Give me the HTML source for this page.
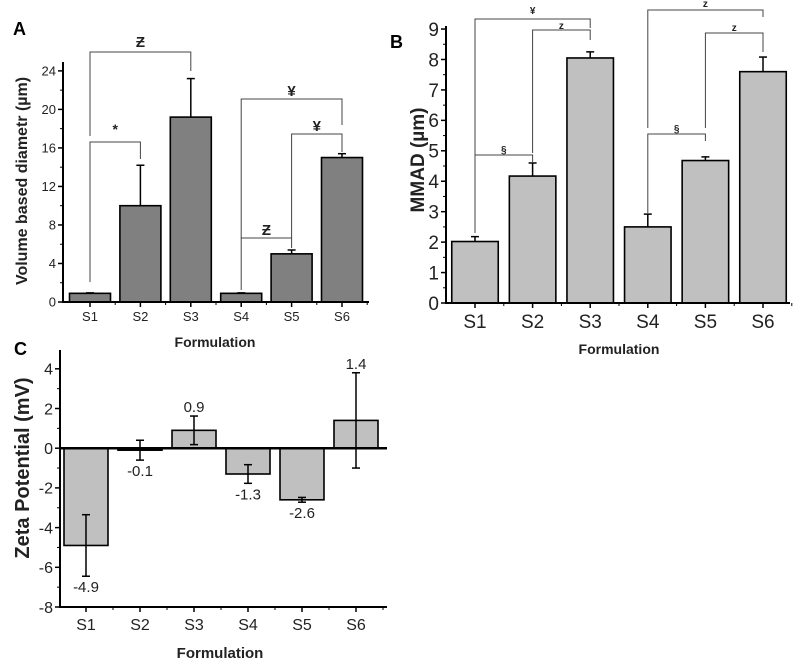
<!DOCTYPE html>
<html><head><meta charset="utf-8"><style>
body{margin:0;background:#fff}
svg{display:block;font-family:"Liberation Sans",Arial,sans-serif}
</style></head><body>
<svg id="fig" width="795" height="663" viewBox="0 0 795 663" xmlns="http://www.w3.org/2000/svg">
<g id="pa"></g>
<g id="pb"></g>
<g id="pc"></g>
</svg>
<script>
const categories=["S1","S2","S3","S4","S5","S6"];
const volDiam=[0.9,10,19.2,0.9,5,15];
const volDiamErr=[0.05,4.2,4.0,0.05,0.4,0.4];
const volTicks=[0,4,8,12,16,20,24];
const mmad=[2.02,4.17,8.05,2.5,4.68,7.6];
const mmadErr=[0.16,0.43,0.2,0.42,0.12,0.48];
const mmadTicks=[0,1,2,3,4,5,6,7,8,9];
const zeta=[-4.9,-0.1,0.9,-1.3,-2.6,1.4];
const zetaErr=[1.55,0.5,0.72,0.47,0.12,2.4];
const zetaLabels=["-4.9","-0.1","0.9","-1.3","-2.6","1.4"];
const zetaTicks=[-8,-6,-4,-2,0,2,4];
const NS="http://www.w3.org/2000/svg";
function mk(p,tag,a,name,txt){const e=document.createElementNS(NS,tag);for(const k in a)e.setAttribute(k,a[k]);


if(txt!==undefined)e.textContent=txt;p.appendChild(e);return e;}
function panel(g,o){
 const y=v=>o.y0-(v-o.vmin)*o.ppu;
 const x=i=>o.x0c+i*o.dx;
 o.vals.forEach((v,i)=>{
  const base=o.base!==undefined?o.base:o.vmin;
  const t=Math.min(y(v),y(base)),h=Math.abs(y(v)-y(base));
  mk(g,'rect',{x:x(i)-o.bw/2,y:t,width:o.bw,height:Math.max(h,0.5),fill:o.fill,stroke:'#000','stroke-width':1.6},'bar-'+categories[i].toLowerCase());
  const e=o.errs[i];
  const top=y(v+e), bot=o.sym?y(v-e):y(v);
  mk(g,'line',{x1:x(i),x2:x(i),y1:top,y2:bot,stroke:'#000','stroke-width':1.5},'error-bar-'+categories[i].toLowerCase());
  mk(g,'line',{x1:x(i)-4,x2:x(i)+4,y1:top,y2:top,stroke:'#000','stroke-width':1.5},'error-cap');
  if(o.sym) mk(g,'line',{x1:x(i)-4,x2:x(i)+4,y1:bot,y2:bot,stroke:'#000','stroke-width':1.5},'error-cap');
 });
 mk(g,'line',{x1:o.ax,x2:o.ax,y1:o.ytop,y2:y(o.vmin)+1,stroke:'#000','stroke-width':2},'y-axis');
 mk(g,'line',{x1:o.ax,x2:o.axEnd,y1:y(o.xAt),y2:y(o.xAt),stroke:'#000','stroke-width':o.zeroW||2},'x-axis');
 if(o.vmin<0) mk(g,'line',{x1:o.ax,x2:o.axEnd,y1:y(o.vmin),y2:y(o.vmin),stroke:'#000','stroke-width':2},'x-axis-bottom');
 o.ticks.forEach((t,k)=>{
  mk(g,'line',{x1:o.ax-5,x2:o.ax,y1:y(t),y2:y(t),stroke:'#000','stroke-width':1.5},'y-tick');
  if(k<o.ticks.length-1){const m=(t+o.ticks[k+1])/2;mk(g,'line',{x1:o.ax-3,x2:o.ax,y1:y(m),y2:y(m),stroke:'#000','stroke-width':1},'y-minor-tick');}
  mk(g,'text',{x:o.ax-7,y:y(t)+o.fs*0.36,'text-anchor':'end','font-size':o.fs,fill:'#222'},'y-tick-label',String(t));
 });
 categories.forEach((c,i)=>{
  mk(g,'line',{x1:x(i),x2:x(i),y1:y(o.vmin),y2:y(o.vmin)+5,stroke:'#000','stroke-width':1.5},'x-tick');
  mk(g,'line',{x1:x(i)+o.dx/2,x2:x(i)+o.dx/2,y1:y(o.vmin),y2:y(o.vmin)+3,stroke:'#000','stroke-width':1},'x-minor-tick');
  mk(g,'text',{x:x(i),y:y(o.vmin)+o.xlOff,'text-anchor':'middle','font-size':o.fs,fill:'#222'},'x-tick-label',c);
 });
 return {x,y};
}
function bracket(g,x1,x2,yb,y1e,y2e,lab,fs,ly){
 mk(g,'path',{d:`M${x1},${y1e}V${yb}H${x2}V${y2e}`,fill:'none',stroke:'#444','stroke-width':1},'significance-bracket');
 mk(g,'text',{x:(x1+x2)/2,y:ly,'text-anchor':'middle','font-size':fs,'font-weight':'bold',fill:'#222'},'significance-label',lab);
}
const ga=document.getElementById('pa');
const A=panel(ga,{vals:volDiam,errs:volDiamErr,ticks:volTicks,vmin:0,y0:302,ppu:9.63,x0c:90,dx:50.4,bw:41,fill:'#808080',ax:63,axEnd:369,ytop:62,xAt:0,fs:13,xlOff:19});
bracket(ga,A.x(0),A.x(2),52,136,71,'Ƶ',15,47);
bracket(ga,A.x(0),A.x(1),142,282,159,'*',14,134);
bracket(ga,A.x(3),A.x(5),99,238,125,'¥',15,96);
bracket(ga,A.x(4),A.x(5),134,238,152,'¥',15,131);
bracket(ga,A.x(3),A.x(4),238,290,248,'Ƶ',15,235);
mk(ga,'text',{x:13,y:35,'font-size':18,'font-weight':'bold'},'panel-label-a','A');
mk(ga,'text',{x:0,y:0,transform:'translate(27,181) rotate(-90)','text-anchor':'middle','font-size':16,'font-weight':'bold',fill:'#222'},'y-axis-title','Volume based diametr (µm)');
mk(ga,'text',{x:215,y:347,'text-anchor':'middle','font-size':14,'font-weight':'bold',fill:'#222'},'x-axis-title','Formulation');
const gb=document.getElementById('pb');
const B=panel(gb,{vals:mmad,errs:mmadErr,ticks:mmadTicks,vmin:0,y0:303,ppu:30.44,x0c:475,dx:57.6,bw:46.5,fill:'#c0c0c0',ax:446,axEnd:790,ytop:26,xAt:0,fs:19,xlOff:25});
bracket(gb,B.x(0),B.x(2),19,233,28,'¥',10,14);
bracket(gb,B.x(1),B.x(2),30,153,40,'z',10,29);
bracket(gb,B.x(0),B.x(1),155,233,163,'§',10,153);
bracket(gb,B.x(3),B.x(5),10,128,17,'z',10,7);
bracket(gb,B.x(4),B.x(5),33,128,52,'z',10,31);
bracket(gb,B.x(3),B.x(4),134,213,141,'§',10,132);
mk(gb,'text',{x:390,y:48,'font-size':18,'font-weight':'bold'},'panel-label-b','B');
mk(gb,'text',{x:0,y:0,transform:'translate(424,160) rotate(-90)','text-anchor':'middle','font-size':19,'font-weight':'bold',fill:'#222'},'y-axis-title','MMAD (µm)');
mk(gb,'text',{x:619,y:354,'text-anchor':'middle','font-size':14,'font-weight':'bold',fill:'#222'},'x-axis-title','Formulation');
const gc=document.getElementById('pc');
const C=panel(gc,{vals:zeta,errs:zetaErr,ticks:zetaTicks,vmin:-8,base:0,sym:true,y0:607,ppu:19.85,x0c:86,dx:54,bw:44,fill:'#c0c0c0',ax:60,axEnd:387,ytop:350,xAt:0,zeroW:2.5,fs:16,xlOff:23});
zeta.forEach((v,i)=>{
 const yy=v>=0?C.y(v+zetaErr[i])-4:C.y(v-zetaErr[i])+16;
 mk(gc,'text',{x:C.x(i),y:yy,'text-anchor':'middle','font-size':15,fill:'#222'},'value-label-'+categories[i].toLowerCase(),zetaLabels[i]);
});
mk(gc,'text',{x:14,y:355,'font-size':18,'font-weight':'bold'},'panel-label-c','C');
mk(gc,'text',{x:0,y:0,transform:'translate(29,468) rotate(-90)','text-anchor':'middle','font-size':20,'font-weight':'bold',fill:'#222'},'y-axis-title','Zeta Potential (mV)');
mk(gc,'text',{x:220,y:658,'text-anchor':'middle','font-size':15,'font-weight':'bold',fill:'#222'},'x-axis-title','Formulation');
</script>
</body></html>
